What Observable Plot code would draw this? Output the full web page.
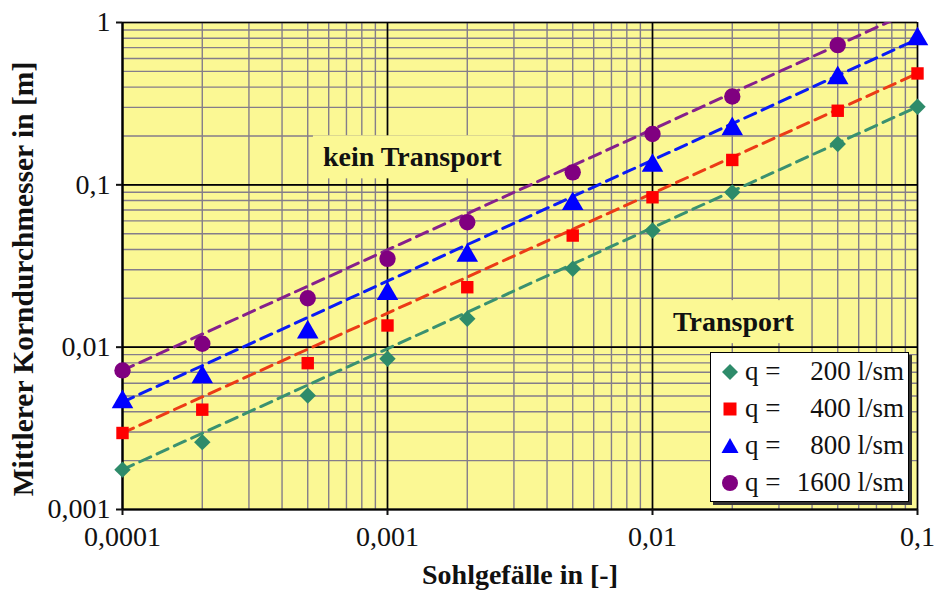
<!DOCTYPE html>
<html><head><meta charset="utf-8">
<script src="https://cdn.jsdelivr.net/npm/d3@7"></script>
<script src="https://cdn.jsdelivr.net/npm/@observablehq/plot@0.6"></script>
<style>
body{margin:0;background:#fff;}
#wrap{position:relative;width:935px;height:592px;overflow:hidden;}
#legend{position:absolute;left:710px;top:352px;width:199px;height:150px;background:#fff;border:1.5px solid #000;box-shadow:3px 3px 0 #333;font-family:'Liberation Serif','Times New Roman',serif;font-size:27px;color:#111;box-sizing:border-box;padding:0;}
#legend .row{display:grid;grid-template-columns:34px 44px 115px;align-items:center;height:37px;}
#legend .mk{display:flex;justify-content:center;align-items:center;padding-left:4px;}
#legend .val{text-align:right;}
</style></head><body><div id="wrap"></div>
<script>
// ---- data ----
const slopes = [0.0001, 0.0002, 0.0005, 0.001, 0.002, 0.005, 0.01, 0.02, 0.05, 0.1];
const q200  = [0.00176, 0.0026, 0.00504, 0.00848, 0.01496, 0.0304, 0.0523, 0.0899, 0.1785, 0.303];
const q400  = [0.00296, 0.00412, 0.00797, 0.0136, 0.0234, 0.0487, 0.0838, 0.1423, 0.286, 0.4855];
const q800  = [0.00459, 0.00654, 0.01237, 0.0213, 0.0367, 0.0763, 0.1313, 0.2208, 0.4547, 0.79];
const q1600 = [0.00719, 0.0105, 0.02002, 0.035, 0.0588, 0.1194, 0.2057, 0.3504, 0.7259, null];
const seriesValueLabels = ["200 l/sm", "400 l/sm", "800 l/sm", "1600 l/sm"];
const xTicks = [0.0001, 0.001, 0.01, 0.1];
const xTickLabels = ["0,0001", "0,001", "0,01", "0,1"];
const yTicks = [0.001, 0.01, 0.1, 1];
const yTickLabels = ["0,001", "0,01", "0,1", "1"];
const xTitle = "Sohlgefälle in [-]";
const yTitle = "Mittlerer Korndurchmesser in [m]";
const annotations = ["kein Transport", "Transport"];
const annotationX = [0.00124, 0.0202];
const annotationY = [0.1476, 0.01425];

// ---- styles ----
const FONT = "'Liberation Serif','Times New Roman',serif";
const bg = "#fbf894";
const markerColors = ["#2e8b6a", "#ff0000", "#0000ff", "#800080"];
const lineColors = ["#3a9170", "#ec3b16", "#0a1cf5", "#86208c"];
const symbols = ["diamond2", "square", "triangle", "circle"];
const radii = [7.4, 7.0, 8.0, 8.2];

const allSeries = [q200, q400, q800, q1600];
const points = allSeries.map((vals, s) => slopes.map((x, i) => ({x, y: vals[i], s})).filter(d => d.y != null));

// straight (power-law) dashed lines through each series' first and last points, over the slope range
const trends = points.map((pts, s) => {
  const p0 = pts[0], p1 = pts[pts.length - 1];
  const b = Math.log10(p1.y / p0.y) / Math.log10(p1.x / p0.x);
  const ends = [slopes[0], slopes[slopes.length - 1]];
  return ends.map(x => ({x, y: p0.y * Math.pow(x / p0.x, b), s}));
});

const minorX = d3.scaleLog().domain([xTicks[0], xTicks[xTicks.length - 1]]).ticks();
const minorY = d3.scaleLog().domain([yTicks[0], yTicks[yTicks.length - 1]]).ticks();

const marks = [
  Plot.frame({fill: bg, stroke: null}),
  Plot.gridX(minorX, {stroke: "#847d8a", strokeOpacity: 1, strokeWidth: 1.4}),
  Plot.gridY(minorY, {stroke: "#847d8a", strokeOpacity: 1, strokeWidth: 1.4}),
  Plot.gridX(xTicks, {stroke: "#000", strokeOpacity: 1, strokeWidth: 1.6}),
  Plot.gridY(yTicks, {stroke: "#000", strokeOpacity: 1, strokeWidth: 1.6}),
  Plot.ruleY([yTicks[0]], {stroke: "#000", strokeWidth: 2.2}),
  Plot.ruleX([xTicks[0]], {stroke: "#000", strokeWidth: 2.2}),
  Plot.axisX(xTicks, {tickFormat: d => xTickLabels[xTicks.indexOf(d)], tickSize: 6, tickPadding: 11, strokeWidth: 2, fontSize: 28, label: null}),
  Plot.axisY(yTicks, {tickFormat: d => yTickLabels[yTicks.indexOf(d)], tickSize: 6, tickPadding: 6, strokeWidth: 2, fontSize: 28, label: null}),
  Plot.text([xTitle], {frameAnchor: "bottom", dy: 74, text: d => d, fontWeight: "bold", fontSize: 28, fill: "#111"}),
  Plot.text([yTitle], {frameAnchor: "left", textAnchor: "middle", rotate: -90, dx: -99, dy: 13, text: d => d, fontWeight: "bold", fontSize: 29.5, fill: "#111"}),
  Plot.text(annotations, {x: (d, i) => annotationX[i], y: (d, i) => annotationY[i], text: d => d,
    fontWeight: "bold", fontSize: 28, fill: "#111", className: "annot"})
];
trends.forEach((t, s) => marks.push(Plot.line(t, {x: "x", y: "y", stroke: lineColors[s], strokeWidth: 3, strokeDasharray: "12,7", clip: true})));
points.forEach((p, s) => marks.push(Plot.dot(p, {x: "x", y: "y", symbol: symbols[s], r: radii[s], fill: markerColors[s], stroke: null})));

const chart = Plot.plot({
  width: 935, height: 592,
  marginLeft: 122, marginRight: 18, marginTop: 22, marginBottom: 83,
  style: {fontFamily: FONT, fontSize: "28px", color: "#111", background: "transparent", overflow: "visible"},
  x: {type: "log", domain: [xTicks[0], xTicks[xTicks.length - 1]]},
  y: {type: "log", domain: [yTicks[0], yTicks[yTicks.length - 1]]},
  marks
});
document.getElementById("wrap").appendChild(chart);

// yellow boxes behind the annotation texts (the reference hides the grid there)
chart.querySelectorAll("g.annot text").forEach(t => {
  const bb = t.getBBox();
  const ctm = t.getAttribute("transform");
  const r = document.createElementNS("http://www.w3.org/2000/svg", "rect");
  r.setAttribute("x", bb.x - 10); r.setAttribute("y", bb.y - 6);
  r.setAttribute("width", bb.width + 20); r.setAttribute("height", bb.height + 12);
  r.setAttribute("fill", bg);
  if (ctm) r.setAttribute("transform", ctm);
  t.parentNode.insertBefore(r, t);
});

// legend
const legend = document.createElement("div");
legend.id = "legend";
const symPaths = ["M0,-8L8,0L0,8L-8,0Z", "M-6.5,-6.5H6.5V6.5H-6.5Z", "M0,-8L8.5,7H-8.5Z", null];
seriesValueLabels.forEach((lab, s) => {
  const row = document.createElement("div");
  row.className = "row";
  const shape = symPaths[s] ? `<path d="${symPaths[s]}" fill="${markerColors[s]}"/>` : `<circle r="8" fill="${markerColors[s]}"/>`;
  row.innerHTML = `<span class="mk"><svg width="20" height="20" viewBox="-10 -10 20 20">${shape}</svg></span><span>q =</span><span class="val">${lab}</span>`;
  legend.appendChild(row);
});
document.getElementById("wrap").appendChild(legend);
</script></body></html>
